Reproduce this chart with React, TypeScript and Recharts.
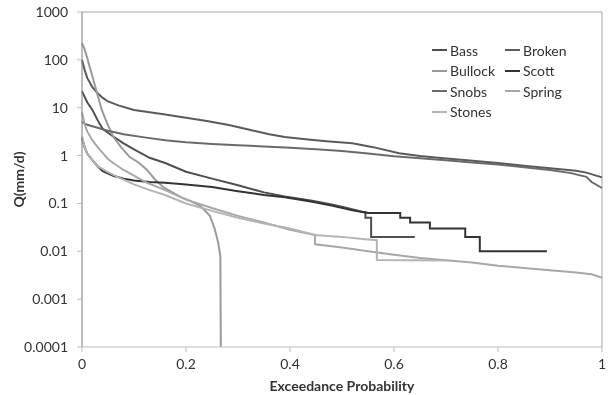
import React from 'react';
import { LineChart, Line, XAxis, YAxis, Legend, ReferenceLine } from 'recharts';

// Flow duration curves: exceedance probability vs daily flow (mm/d)
const broken = [
  [0, 100], [0.005, 62], [0.01, 42], [0.02, 27], [0.03, 20], [0.04, 16], [0.05, 13.5],
  [0.07, 11.2], [0.1, 9], [0.13, 8], [0.16, 7.2], [0.2, 6.2], [0.24, 5.3], [0.28, 4.4],
  [0.32, 3.5], [0.36, 2.8], [0.39, 2.45], [0.43, 2.2], [0.47, 2.0], [0.52, 1.8],
  [0.56, 1.5], [0.61, 1.12], [0.65, 0.98], [0.69, 0.89], [0.74, 0.8], [0.8, 0.7],
  [0.85, 0.61], [0.88, 0.57], [0.92, 0.52], [0.95, 0.48], [0.97, 0.44], [1, 0.35],
];
const snobs = [
  [0, 5], [0.01, 4.4], [0.03, 3.8], [0.05, 3.3], [0.08, 2.8], [0.12, 2.4], [0.16, 2.1],
  [0.2, 1.9], [0.25, 1.75], [0.3, 1.65], [0.35, 1.55], [0.4, 1.45], [0.45, 1.35],
  [0.5, 1.25], [0.55, 1.1], [0.6, 0.97], [0.65, 0.88], [0.7, 0.8], [0.75, 0.72],
  [0.8, 0.65], [0.85, 0.57], [0.9, 0.5], [0.94, 0.43], [0.97, 0.36], [0.98, 0.28], [1, 0.21],
];
const bass = [
  [0, 22], [0.01, 13], [0.02, 9], [0.03, 5.5], [0.04, 3.6], [0.06, 2.5], [0.08, 1.8],
  [0.1, 1.35], [0.13, 0.9], [0.16, 0.7], [0.2, 0.46], [0.25, 0.33], [0.3, 0.24],
  [0.35, 0.17], [0.39, 0.14], [0.44, 0.115], [0.48, 0.095], [0.51, 0.08], [0.54, 0.066],
  [0.545, 0.066], [0.545, 0.05], [0.556, 0.05], [0.556, 0.02], [0.64, 0.02],
];
const scott = [
  [0, 2.3], [0.005, 1.5], [0.01, 1.1], [0.02, 0.8], [0.03, 0.6], [0.04, 0.47], [0.06, 0.38],
  [0.08, 0.33], [0.1, 0.3], [0.13, 0.28], [0.16, 0.27], [0.2, 0.25], [0.25, 0.22],
  [0.3, 0.18], [0.35, 0.15], [0.39, 0.135], [0.44, 0.11], [0.48, 0.09], [0.52, 0.072],
  [0.55, 0.063], [0.612, 0.063], [0.612, 0.05], [0.631, 0.05], [0.631, 0.04], [0.669, 0.04],
  [0.669, 0.03], [0.737, 0.03], [0.737, 0.02], [0.765, 0.02], [0.765, 0.01], [0.894, 0.01],
];
const bullock = [
  [0, 220], [0.004, 180], [0.01, 110], [0.015, 70], [0.022, 38], [0.029, 20], [0.038, 9],
  [0.048, 4.8], [0.06, 2.5], [0.075, 1.5], [0.092, 0.93], [0.11, 0.7], [0.125, 0.5],
  [0.14, 0.32], [0.156, 0.22], [0.19, 0.135], [0.21, 0.11], [0.227, 0.09], [0.246, 0.055],
  [0.255, 0.03], [0.262, 0.015], [0.266, 0.008], [0.267, 0.0001],
];
const spring = [
  [0, 8], [0.005, 4.5], [0.01, 3.2], [0.02, 2.1], [0.03, 1.5], [0.05, 0.85], [0.06, 0.7],
  [0.08, 0.5], [0.1, 0.38], [0.125, 0.27], [0.16, 0.19], [0.19, 0.135], [0.2, 0.12],
  [0.25, 0.08], [0.3, 0.055], [0.35, 0.04], [0.4, 0.028], [0.448, 0.022], [0.448, 0.014],
  [0.5, 0.012], [0.55, 0.01], [0.6, 0.0085], [0.65, 0.0072], [0.7, 0.0065], [0.75, 0.0058],
  [0.8, 0.005], [0.85, 0.0045], [0.9, 0.004], [0.95, 0.0036], [0.98, 0.0033], [1, 0.0028],
];
const stones = [
  [0, 2.5], [0.005, 1.5], [0.01, 1.1], [0.02, 0.8], [0.03, 0.6], [0.05, 0.45], [0.07, 0.35],
  [0.1, 0.25], [0.13, 0.19], [0.16, 0.15], [0.2, 0.1], [0.25, 0.07], [0.3, 0.05],
  [0.35, 0.038], [0.4, 0.03], [0.448, 0.022], [0.5, 0.02], [0.54, 0.018], [0.567, 0.017],
  [0.567, 0.0066], [0.7, 0.0064],
];

const names = ['Bass', 'Broken', 'Bullock', 'Scott', 'Snobs', 'Spring', 'Stones'];
const colors = ['#4f4f4f', '#5a5a5a', '#9a9a9a', '#333333', '#6a6a6a', '#a8a8a8', '#b4b4b4'];
const values = [bass, broken, bullock, scott, snobs, spring, stones];

const xTicks = [0, 0.2, 0.4, 0.6, 0.8, 1];
const yTicks = [0.0001, 0.001, 0.01, 0.1, 1, 10, 100, 1000];

const series = names.map((name, i) => ({
  name,
  color: colors[i],
  data: values[i].map(([p, q]) => ({ p, q })),
}));

const font = 'Lato, "Open Sans", sans-serif';
const textColor = '#333';

const renderLegend = () => (
  <div
    style={{
      display: 'grid',
      gridTemplateColumns: '73px 80px',
      gridAutoRows: '20.5px',
      fontFamily: font,
      fontSize: 14,
      color: textColor,
    }}
  >
    {series.map((s) => (
      <div key={s.name} style={{ display: 'flex', alignItems: 'center' }}>
        <span style={{ width: 15, height: 2, background: s.color, marginRight: 3 }} />
        <span>{s.name}</span>
      </div>
    ))}
  </div>
);

const YLabel = ({ viewBox }: any) => (
  <text
    x={viewBox.x + 18}
    y={viewBox.y + viewBox.height / 2}
    transform={`rotate(-90, ${viewBox.x + 18}, ${viewBox.y + viewBox.height / 2})`}
    textAnchor="middle"
    dominantBaseline="central"
    fontFamily={font}
    fontSize={14}
    fontWeight="bold"
    fill={textColor}
  >
    Q(mm/d)
  </text>
);

export default function App() {
  return (
    <div style={{ position: 'fixed', left: 0, top: 0, width: 608, height: 395 }}>
      <LineChart width={608} height={395} margin={{ top: 12, right: 6, bottom: 0, left: 0 }}>
        <XAxis
          dataKey="p"
          type="number"
          domain={[0, 1]}
          ticks={xTicks}
          tickFormatter={(v) => String(v)}
          height={48}
          tickSize={5}
          tickMargin={7}
          axisLine={{ stroke: '#bdbdbd' }}
          tickLine={{ stroke: '#bdbdbd' }}
          tick={{ fill: textColor, fontFamily: font, fontSize: 14 }}
          label={{
            value: 'Exceedance Probability',
            position: 'insideBottom',
            offset: 4,
            fill: textColor,
            fontFamily: font,
            fontSize: 14,
            fontWeight: 'bold',
          }}
        />
        <YAxis
          dataKey="q"
          type="number"
          scale="log"
          domain={[0.0001, 1000]}
          allowDataOverflow
          ticks={yTicks}
          tickFormatter={(v) => String(v)}
          width={82}
          tickSize={5}
          tickMargin={9}
          axisLine={{ stroke: '#7a7a7a' }}
          tickLine={{ stroke: '#bdbdbd' }}
          tick={{ fill: textColor, fontFamily: font, fontSize: 14 }}
          label={<YLabel />}
        />
        <ReferenceLine y={1000} stroke="#a6a6a6" />
        <ReferenceLine x={1} stroke="#a6a6a6" />
        {series.map((s) => (
          <Line
            key={s.name}
            data={s.data}
            dataKey="q"
            name={s.name}
            stroke={s.color}
            strokeWidth={2}
            dot={false}
            type="linear"
            isAnimationActive={false}
          />
        ))}
        <Legend
          layout="vertical"
          align="center"
          verticalAlign="middle"
          content={renderLegend}
          wrapperStyle={{ left: 432, top: 40, width: 160 }}
        />
      </LineChart>
    </div>
  );
}
